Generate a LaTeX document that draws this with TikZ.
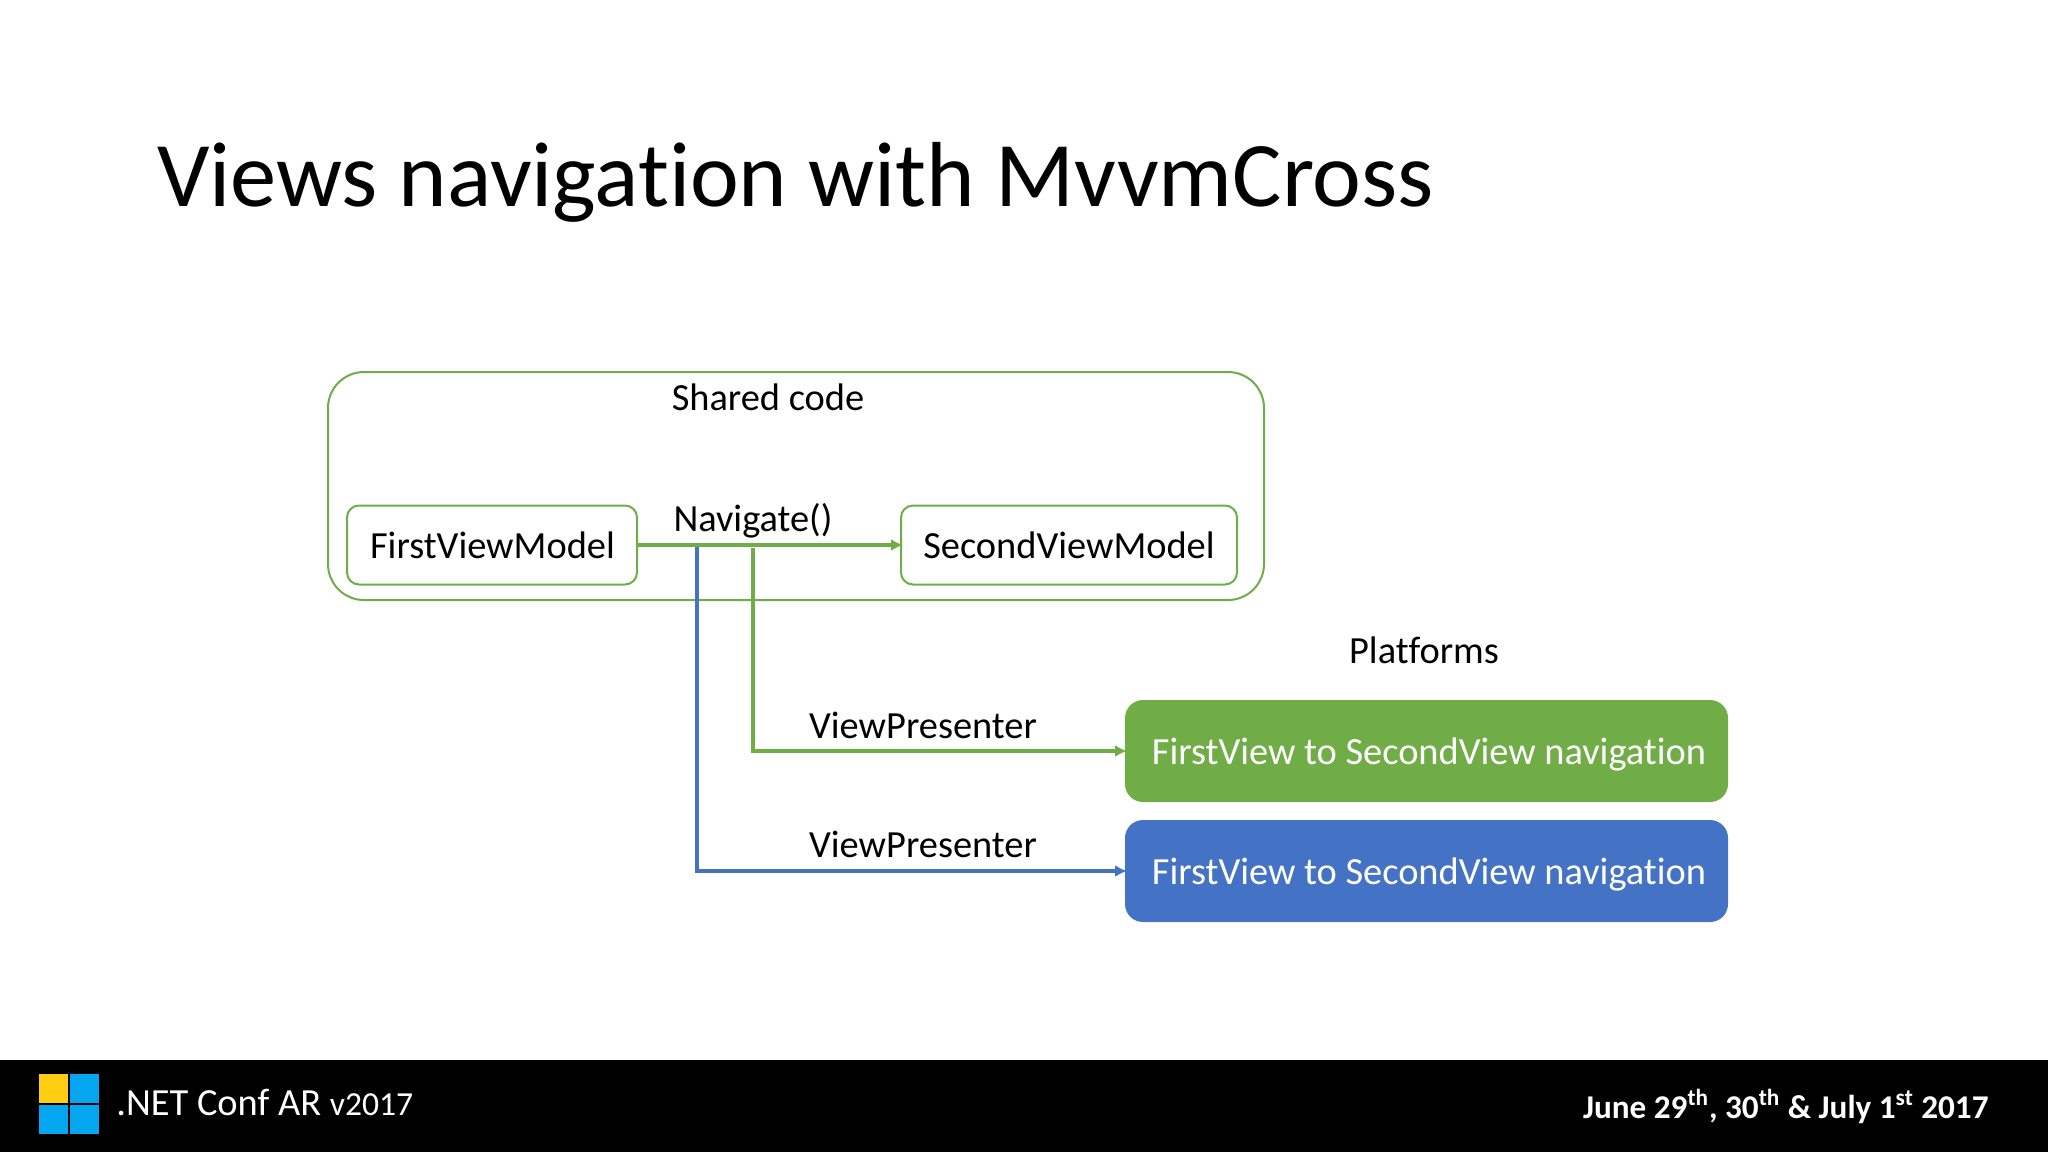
\documentclass[tikz,border=0pt]{standalone}
\usepackage{fontspec}
\setmainfont[Ligatures=NoCommon]{Carlito}
\usepackage{tikz}
\usetikzlibrary{arrows.meta}
\definecolor{netgreen}{HTML}{70AD47}
\definecolor{netblue}{HTML}{4472C4}
\definecolor{paneyellow}{HTML}{FFCD12}
\definecolor{panecyan}{HTML}{05A6F0}
\newcommand{\bodysize}{\fontsize{19.2}{23}\selectfont}
\tikzset{
	vmbox/.style={draw=netgreen,line width=1pt,rounded corners=6pt,minimum height=39.5pt,inner sep=0pt,outer sep=0pt,font=\bodysize},
	platbox/.style={rounded corners=9pt,minimum width=301.5pt,minimum height=51pt,inner sep=0pt,outer sep=0pt,text=white,text depth=-1.3pt,font=\bodysize,execute at begin node=\hspace*{2.5pt}},
	txt/.style={inner sep=0pt,anchor=base,font=\bodysize},
	flow/.style={line width=2pt,shorten >=-1pt,-{Latex[length=6pt,width=6pt]}}
}

\begin{document}
\begin{tikzpicture}[x=0.5pt,y=-0.5pt]
		\useasboundingbox (0,0) rectangle (2048,1152);
		\node[inner sep=0pt,anchor=base west,font=\fontsize{46.2}{56}\selectfont] (title) at (157,206) {Views navigation with MvvmCross};
		\node[draw=netgreen,line width=1pt,rounded corners=18pt,minimum width=468pt,minimum height=114pt] (shared) at (796,486) {};
		\node[txt] (sharedlabel) at (768,410) {Shared code};
		\node[vmbox,minimum width=145pt] (firstvm) at (492,545) {\hspace*{0.5pt}FirstViewModel};
		\node[vmbox,minimum width=168pt] (secondvm) at (1069,545) {SecondViewModel};
		\node[txt] (navlabel) at (753,531) {Navigate()};
		\node[txt] (platlabel) at (1424,663) {Platforms};
		\node[platbox,fill=netgreen] (platgreen) at (1426.5,751) {FirstView to SecondView navigation};
		\node[platbox,fill=netblue] (platblue) at (1426.5,871) {FirstView to SecondView navigation};
		\node[txt] (presgreen) at (923,738) {ViewPresenter};
		\node[txt] (presblue) at (923,857) {ViewPresenter};
		\coordinate (navgreen) at (753,548);
		\coordinate (navblue) at (697,547);
		\draw[flow,color=netgreen] (firstvm.east) -- (secondvm.west);
		\draw[flow,color=netgreen] (navgreen) |- (platgreen.west);
		\draw[flow,color=netblue] (navblue) |- (platblue.west);
		\fill[black] (0,1060) rectangle (2048,1152);
		\foreach \x/\y/\c in {39/1074/paneyellow,70/1074/panecyan,39/1105/panecyan,70/1105/panecyan}
		\fill[color=\c] (\x,\y) rectangle (\x+29,\y+29);
		\node[inner sep=0pt,anchor=base west,text=white,font=\bodysize] (conf) at (116,1115) {.NET Conf AR {\fontsize{16.8}{20}\selectfont v2017}};
		\node[inner sep=0pt,anchor=base east,text=white,font=\fontsize{16.6}{20}\selectfont\bfseries] (dates) at (1989,1118) {June 29\textsuperscript{th}, 30\textsuperscript{th} \& July 1\textsuperscript{st} 2017};
	\end{tikzpicture}
\end{document}
